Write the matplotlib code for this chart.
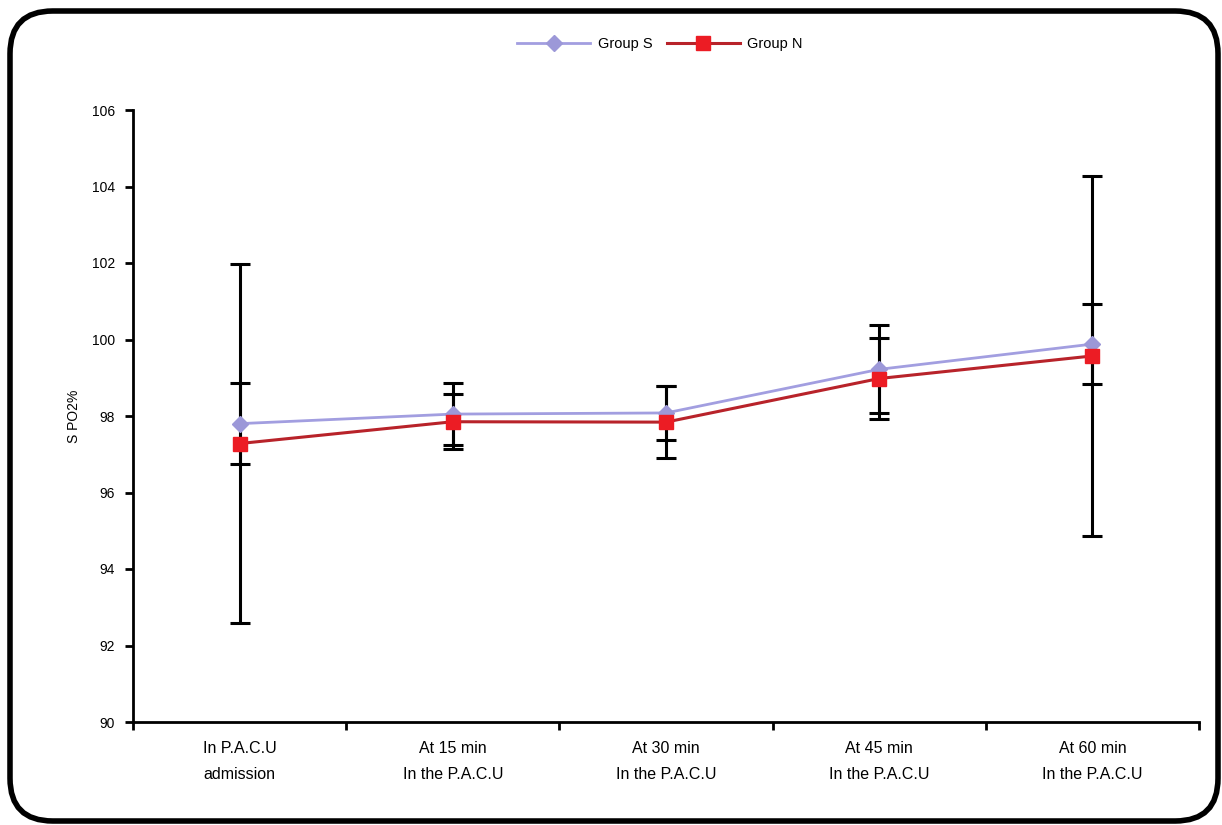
import matplotlib
matplotlib.use("Agg")
import matplotlib.pyplot as plt
from matplotlib.patches import FancyBboxPatch
import numpy as np

categories = ["In P.A.C.U\nadmission", "At 15 min\nIn the P.A.C.U", "At 30 min\nIn the P.A.C.U",
              "At 45 min\nIn the P.A.C.U", "At 60 min\nIn the P.A.C.U"]
group_s = [97.8, 98.05, 98.08, 99.22, 99.88]
group_s_err = [1.05, 0.8, 0.7, 1.15, 1.05]
group_n = [97.28, 97.85, 97.84, 98.98, 99.57]
group_n_err = [4.7, 0.72, 0.95, 1.05, 4.7]
yticks = [90, 92, 94, 96, 98, 100, 102, 104, 106]

plt.rcParams['font.family'] = ['Liberation Sans', 'DejaVu Sans']

fig = plt.figure(figsize=(12.22, 8.25), dpi=100)
fig.patch.set_facecolor('white')

# rounded border
border = FancyBboxPatch((10 / 1222, 4 / 825), 1208 / 1222, 810 / 825,
                        boxstyle="round,pad=0,rounding_size=0.035",
                        transform=fig.transFigure, fill=False, edgecolor='black',
                        linewidth=4, mutation_aspect=1222 / 825)
fig.patches.append(border)

ax = fig.add_axes([133 / 1222, 1 - 722 / 825, (1199 - 133) / 1222, (722 - 110) / 825])
x = np.arange(len(categories))

ax.errorbar(x, group_s, yerr=group_s_err, fmt='none', ecolor='black', elinewidth=2.2,
            capsize=7, capthick=2.2, zorder=2)
ax.errorbar(x, group_n, yerr=group_n_err, fmt='none', ecolor='black', elinewidth=2.2,
            capsize=7, capthick=2.2, zorder=2)
ax.plot(x, group_s, color='#a29ee0', linewidth=2, marker='D', markersize=8,
        markerfacecolor='#9c98d8', markeredgecolor='#9c98d8', label='Group S', zorder=3)
ax.plot(x, group_n, color='#b8232a', linewidth=2.2, marker='s', markersize=10,
        markerfacecolor='#ec1c24', markeredgecolor='#ec1c24', label='Group N', zorder=4)

ax.set_xlim(-0.5, 4.5)
ax.set_ylim(90, 106)
ax.set_yticks(yticks)
ax.set_yticklabels([str(v) for v in yticks], fontsize=10)
ax.set_xticks(x)
ax.set_xticklabels(categories, fontsize=11.5, linespacing=1.9)
ax.set_xticks(np.arange(-0.5, 5, 1), minor=True)
ax.tick_params(axis='x', which='major', length=0, pad=14)
ax.tick_params(axis='x', which='minor', length=6, width=2, direction='out')
ax.tick_params(axis='y', which='major', length=6, width=2, direction='out', pad=7)
for s in ['top', 'right']:
    ax.spines[s].set_visible(False)
for s in ['left', 'bottom']:
    ax.spines[s].set_linewidth(2)
ax.set_ylabel('S PO2%', fontsize=10, labelpad=8)

leg = fig.legend(loc='center', bbox_to_anchor=(660 / 1222, 1 - 44 / 825), ncol=2,
                 frameon=False, fontsize=10.5, handlelength=5, columnspacing=1.0,
                 handletextpad=0.5)

fig.savefig('out.png', dpi=100, facecolor='white')
